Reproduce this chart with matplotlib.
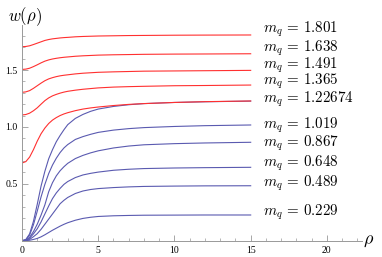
import matplotlib
matplotlib.use("Agg")
import matplotlib.pyplot as plt
from matplotlib.ticker import MultipleLocator

plt.rcParams['mathtext.fontset'] = 'cm'

# sample points along rho
rho = [0, 0.25, 0.5, 0.75, 1, 1.25, 1.5, 1.75, 2, 2.25, 2.5, 2.75, 3, 3.5, 4, 4.5, 5,
       6, 7, 8, 10, 12, 15]

red_1801 = [1.705, 1.707, 1.713, 1.724, 1.736, 1.748, 1.760, 1.768, 1.774, 1.778, 1.782,
            1.785, 1.787, 1.792, 1.795, 1.797, 1.799, 1.801, 1.803, 1.804, 1.806, 1.807, 1.808]
red_1638 = [1.505, 1.508, 1.516, 1.530, 1.546, 1.563, 1.578, 1.589, 1.597, 1.603, 1.608,
            1.612, 1.615, 1.621, 1.625, 1.628, 1.631, 1.634, 1.636, 1.638, 1.640, 1.641, 1.643]
red_1491 = [1.304, 1.308, 1.319, 1.339, 1.362, 1.385, 1.406, 1.422, 1.433, 1.442, 1.449,
            1.454, 1.458, 1.466, 1.472, 1.476, 1.480, 1.484, 1.487, 1.490, 1.492, 1.494, 1.497]
red_1365 = [1.105, 1.109, 1.121, 1.142, 1.168, 1.200, 1.231, 1.255, 1.273, 1.286, 1.297,
            1.306, 1.313, 1.323, 1.331, 1.337, 1.343, 1.350, 1.354, 1.357, 1.362, 1.364, 1.368]
red_1227 = [0.683, 0.695, 0.735, 0.800, 0.875, 0.940, 0.990, 1.030, 1.060, 1.082, 1.100,
            1.114, 1.125, 1.143, 1.157, 1.167, 1.175, 1.188, 1.198, 1.205, 1.215, 1.222, 1.228]

blue_1227 = [0, 0.010, 0.060, 0.170, 0.320, 0.480, 0.610, 0.720, 0.800, 0.870, 0.925,
             0.975, 1.020, 1.075, 1.110, 1.137, 1.157, 1.180, 1.195, 1.205, 1.215, 1.221, 1.227]
blue_1019 = [0, 0.008, 0.050, 0.140, 0.260, 0.385, 0.495, 0.590, 0.665, 0.725, 0.775,
             0.815, 0.845, 0.890, 0.915, 0.935, 0.952, 0.972, 0.985, 0.994, 1.004, 1.011, 1.017]
blue_0867 = [0, 0.005, 0.030, 0.080, 0.145, 0.225, 0.315, 0.430, 0.510, 0.570, 0.615,
             0.650, 0.680, 0.722, 0.750, 0.772, 0.790, 0.815, 0.832, 0.843, 0.853, 0.859, 0.865]
blue_0648 = [0, 0.004, 0.022, 0.060, 0.105, 0.165, 0.235, 0.305, 0.370, 0.420, 0.460,
             0.495, 0.520, 0.555, 0.578, 0.592, 0.603, 0.619, 0.628, 0.634, 0.639, 0.642, 0.645]
blue_0489 = [0, 0.002, 0.012, 0.035, 0.062, 0.100, 0.145, 0.190, 0.235, 0.280, 0.325,
             0.355, 0.380, 0.415, 0.437, 0.450, 0.458, 0.467, 0.473, 0.477, 0.480, 0.482, 0.483]
blue_0229 = [0, 0.001, 0.004, 0.011, 0.020, 0.034, 0.052, 0.072, 0.092, 0.110, 0.128,
             0.144, 0.158, 0.180, 0.196, 0.206, 0.213, 0.219, 0.222, 0.224, 0.225, 0.226, 0.226]

red_curves = [red_1801, red_1638, red_1491, red_1365, red_1227]
blue_curves = [blue_1227, blue_1019, blue_0867, blue_0648, blue_0489, blue_0229]

mq_labels = ["1.801", "1.638", "1.491", "1.365", "1.22674",
             "1.019", "0.867", "0.648", "0.489", "0.229"]
label_y = [1.862, 1.693, 1.540, 1.398, 1.245, 1.017, 0.856, 0.680, 0.504, 0.246]

xticks = [0, 5, 10, 15, 20]
yticks = [0.5, 1.0, 1.5]

fig = plt.figure(figsize=(3.82, 2.57), dpi=100)
ax = fig.add_axes([0.0576, 0.0634, 0.890, 0.839])

for w in blue_curves:
    ax.plot(rho, w, color='#5a5ab0', lw=0.8)
for w in red_curves:
    ax.plot(rho, w, color='#ff3030', lw=0.8)

for lab, y in zip(mq_labels, label_y):
    ax.text(15.8, y, r'$m_q\,=\,' + lab + '$', fontsize=10.8, va='center', ha='left')

ax.set_xlim(0, 22.3)
ax.set_ylim(0, 1.895)

for s in ['top', 'right']:
    ax.spines[s].set_visible(False)
for s in ['left', 'bottom']:
    ax.spines[s].set_color('#999999')
    ax.spines[s].set_linewidth(0.7)

ax.set_xticks(xticks)
ax.set_yticks(yticks)
ax.set_xticklabels([str(t) for t in xticks], family='Liberation Serif', fontsize=7)
ax.set_yticklabels(['%.1f' % t for t in yticks], family='Liberation Serif', fontsize=7)
ax.xaxis.set_minor_locator(MultipleLocator(1))
ax.yaxis.set_minor_locator(MultipleLocator(0.1))
ax.tick_params(which='major', direction='in', length=4, width=0.6, color='#999999', pad=4)
ax.tick_params(which='minor', direction='in', length=2, width=0.5, color='#999999')
ax.tick_params(axis='y', pad=3)

fig.text(25 / 382, 1 - 17 / 257, r'$w(\rho)$', fontsize=12, ha='center', va='center')
fig.text(369 / 382, 1 - 240 / 257, r'$\rho$', fontsize=13, ha='center', va='center')

fig.savefig("out.png", dpi=100)
